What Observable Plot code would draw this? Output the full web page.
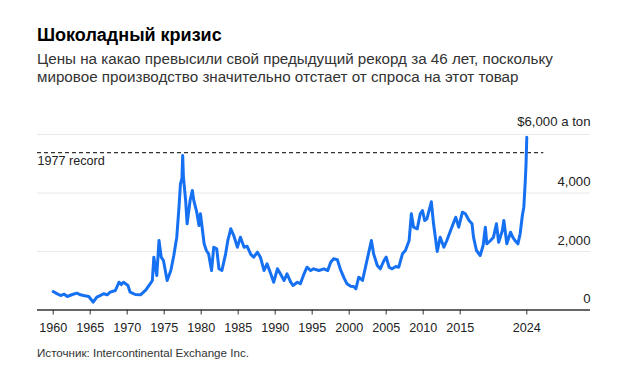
<!DOCTYPE html>
<html>
<head>
<meta charset="utf-8">
<script src="https://cdn.jsdelivr.net/npm/d3@7"></script>
<script src="https://cdn.jsdelivr.net/npm/@observablehq/plot@0.6"></script>
<style>
  html, body { margin: 0; padding: 0; background: #fff; }
  body { width: 622px; height: 376px; position: relative; overflow: hidden; font-family: "Liberation Sans", Arial, sans-serif; }
  .title { position: absolute; left: 37px; top: 26px; font-size: 18px; line-height: 18px; font-weight: bold; color: #000; white-space: nowrap; }
  .subtitle { position: absolute; left: 37px; top: 50px; font-size: 15.2px; line-height: 18px; color: #333; width: 570px; white-space: nowrap; }
  .source { position: absolute; left: 37px; top: 347px; font-size: 11.6px; line-height: 12px; color: #333; white-space: nowrap; }
  #chart { position: absolute; left: 0; top: 100px; }
</style>
</head>
<body>
<div class="title">Шоколадный кризис</div>
<div class="subtitle">Цены на какао превысили свой предыдущий рекорд за 46 лет, поскольку<br>мировое производство значительно отстает от спроса на этот товар</div>
<div id="chart"></div>
<div class="source">Источник: Intercontinental Exchange Inc.</div>
<script>
const years = [1960.0,1960.5,1961.0,1961.5,1961.9,1962.6,1963.2,1963.7,1964.1,1964.8,1965.4,1965.9,1966.4,1966.8,1967.3,1967.7,1968.4,1968.9,1969.2,1969.5,1970.1,1970.4,1971.1,1971.8,1972.5,1973.1,1973.4,1973.6,1974.0,1974.3,1974.6,1974.9,1975.4,1975.9,1976.3,1976.7,1977.0,1977.2,1977.4,1977.5,1977.6,1977.9,1978.1,1978.5,1978.8,1979.0,1979.4,1979.7,1979.9,1980.4,1980.7,1981.0,1981.4,1981.7,1982.1,1982.4,1982.8,1983.3,1983.6,1984.0,1984.4,1984.9,1985.3,1985.8,1986.2,1986.7,1987.1,1987.6,1988.0,1988.5,1988.9,1989.4,1989.8,1990.3,1990.7,1991.2,1991.6,1992.1,1992.4,1993.0,1993.4,1993.9,1994.3,1994.8,1995.2,1995.9,1996.6,1997.1,1997.5,1997.9,1998.4,1998.8,1999.3,1999.7,2000.2,2000.6,2000.9,2001.3,2001.8,2002.2,2002.6,2003.0,2003.3,2003.8,2004.2,2004.7,2005.0,2005.4,2005.8,2006.3,2006.7,2007.2,2007.6,2008.1,2008.4,2008.7,2009.2,2009.6,2009.9,2010.2,2010.5,2011.1,2011.4,2011.9,2012.3,2012.8,2013.2,2013.7,2014.4,2014.8,2015.3,2015.7,2016.2,2016.6,2016.8,2017.2,2017.7,2018.1,2018.4,2018.6,2019.1,2019.5,2019.9,2020.2,2020.7,2020.9,2021.3,2021.8,2022.1,2022.4,2022.8,2023.1,2023.4,2023.6,2023.8,2023.9,2024.0];
const prices = [632,560,496,540,462,530,575,520,496,462,267,438,500,554,520,609,667,950,870,950,838,609,530,520,680,896,1009,1805,1180,2376,1805,1692,1009,1350,1863,2490,3515,4315,4496,5282,4540,3744,2947,3744,4085,3744,3344,2889,3289,2263,2034,1921,1350,2147,2092,1408,1350,1921,2376,2776,2547,2147,2490,2147,2180,1900,1805,1976,1805,1350,1579,1238,950,1408,1238,1009,1238,950,838,950,896,1238,1463,1350,1408,1350,1408,1350,1634,1750,1716,1400,1100,896,810,803,725,1121,1009,1463,1921,2376,1921,1521,1408,1692,1805,1463,1408,1487,1463,1921,2034,2376,3289,2831,2776,3289,3402,3060,3118,3700,2947,2000,2490,2147,2376,2718,3172,2831,3344,3289,3060,2947,2490,2034,1863,2205,2831,2263,2376,2490,2947,2318,2718,3060,2263,2660,2490,2376,2263,2605,3231,3515,4427,4998,5908];
const xTicks = [1960,1965,1970,1975,1980,1985,1990,1995,2000,2005,2010,2015,2024];
const yTicks = [0,2000,4000];
const yTopTick = 6000;
const yTopLabel = "$6,000 a ton";
const record1977 = 5379;
const recordLabel = "1977 record";
const recordEnd = 2026.3;

const data = years.map((y, i) => ({year: y, price: prices[i]}));
const xDomain = [1957.88, 2032.61];

const chart = Plot.plot({
  width: 622,
  height: 240,
  marginLeft: 37,
  marginRight: 32,
  marginTop: 34,
  marginBottom: 30.5,
  style: {fontFamily: "'Liberation Sans', Arial, sans-serif", background: "transparent", overflow: "visible"},
  x: {domain: xDomain, label: null},
  y: {domain: [0, 6000], label: null},
  marks: [
    Plot.ruleY([...yTicks.slice(1), yTopTick], {x1: xDomain[0], x2: xDomain[1], stroke: "#e9e9e9", strokeWidth: 1}),
    Plot.ruleY([record1977], {x1: xDomain[0], x2: recordEnd, stroke: "#333", strokeWidth: 1.3, strokeDasharray: "4,3"}),
    Plot.text([recordLabel], {x: xDomain[0], y: record1977, text: d => d, textAnchor: "start", lineAnchor: "bottom", dy: 12, fontSize: 12.6, fill: "#222"}),
    Plot.text(yTicks, {x: xDomain[1], y: d => d, text: d => d3.format(",")(d), textAnchor: "end", lineAnchor: "bottom", dy: -7, fontSize: 13.2, fill: "#222"}),
    Plot.text([yTopLabel], {x: xDomain[1], y: yTopTick, text: d => d, textAnchor: "end", lineAnchor: "bottom", dy: -9, fontSize: 13.2, fill: "#222"}),
    Plot.line(data, {x: "year", y: "price", stroke: "#1670f2", strokeWidth: 3, strokeLinejoin: "round", strokeLinecap: "round"}),
    Plot.ruleY([0], {x1: xDomain[0], x2: xDomain[1], stroke: "#333", strokeWidth: 1.3}),
    Plot.axisX({ticks: xTicks, tickFormat: d => String(d), tickSize: 5, tickPadding: 8.5, fontSize: 12.6, stroke: "#333", color: "#222"}),
    Plot.axisY({ticks: []})
  ]
});
document.getElementById("chart").appendChild(chart);
</script>
</body>
</html>
